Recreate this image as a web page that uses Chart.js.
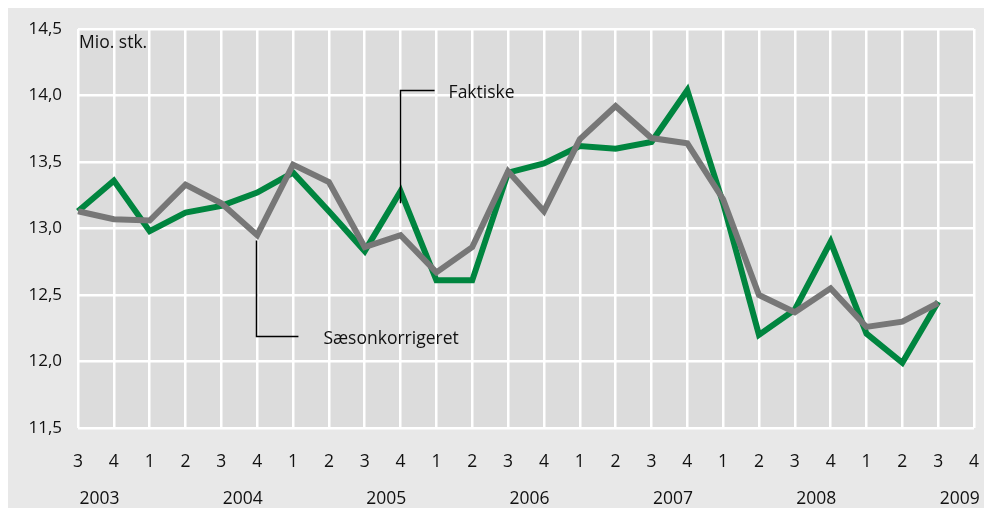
<!DOCTYPE html>
<html>
<head>
<meta charset="utf-8">
<script src="https://cdn.jsdelivr.net/npm/chart.js@4/dist/chart.umd.min.js"></script>
<style>
  html, body { margin: 0; padding: 0; background: #ffffff; }
  canvas { display: block; }
</style>
</head>
<body>
<canvas id="c" width="984" height="508"></canvas>
<script>
// ---- Data ----
const quarterLabels = ['3','4','1','2','3','4','1','2','3','4','1','2','3','4','1','2','3','4','1','2','3','4','1','2','3','4'];
const yearLabels = ['2003','2004','2005','2006','2007','2008','2009'];
const faktiske = [13.13,13.36,12.98,13.12,13.17,13.27,13.42,13.13,12.83,13.28,12.61,12.61,13.42,13.49,13.62,13.60,13.65,14.04,13.19,12.20,12.39,12.90,12.21,11.99,12.45];
const saesonkorrigeret = [13.13,13.07,13.06,13.33,13.19,12.95,13.48,13.35,12.86,12.95,12.67,12.86,13.43,13.13,13.67,13.92,13.68,13.64,13.22,12.50,12.37,12.55,12.26,12.30,12.44];
const yTicks = [11.5,12.0,12.5,13.0,13.5,14.0,14.5];
const unitLabel = 'Mio. stk.';

// annotation leaders (data coordinates: category index, values)
const annotations = [
  { text: 'Faktiske', x: 9, yFrom: 13.19, yTo: 14.04, dx: 0.95, textGap: 14 },
  { text: 'Sæsonkorrigeret', x: 5, yFrom: 12.91, yTo: 12.19, dx: 1.15, textGap: 25 }
];

// year tick positions: just after each Q3
const yearPositions = [];
quarterLabels.forEach((q, i) => { if (q === '3') yearPositions.push(i + 0.6); });

const FONT = '"Open Sans", "Noto Sans", sans-serif';
const TEXT = '#111111';

const bgPlugin = {
  id: 'bg',
  beforeDraw(chart) {
    const ctx = chart.ctx, a = chart.chartArea;
    ctx.save();
    ctx.fillStyle = '#e8e8e8';
    ctx.fillRect(8, 8, chart.width - 8, chart.height - 8);
    ctx.fillStyle = '#dcdcdc';
    ctx.fillRect(a.left, a.top, a.right - a.left, a.bottom - a.top);
    ctx.restore();
  },
  afterDraw(chart) {
    const ctx = chart.ctx, a = chart.chartArea;
    const xs = chart.scales.x, ys = chart.scales.y;
    ctx.save();
    ctx.fillStyle = TEXT;
    ctx.font = '17.5px ' + FONT;
    ctx.textBaseline = 'middle';
    ctx.textAlign = 'left';
    ctx.fillText(unitLabel, a.left + 1, a.top + 14);
    ctx.strokeStyle = '#000000';
    ctx.lineWidth = 1.5;
    annotations.forEach(an => {
      const x = Math.round(xs.getPixelForValue(an.x)) - 0.5;
      const y1 = ys.getPixelForValue(an.yFrom);
      const y2 = Math.round(ys.getPixelForValue(an.yTo)) + 0.5;
      const x2 = xs.getPixelForValue(an.x + an.dx);
      ctx.beginPath();
      ctx.moveTo(x, y1);
      ctx.lineTo(x, y2);
      ctx.lineTo(x2, y2);
      ctx.stroke();
      ctx.fillText(an.text, x2 + an.textGap, y2 + 3);
    });
    ctx.restore();
  }
};

function noPad(scale) {
  scale.paddingLeft = 0;
  scale.paddingRight = 0;
}

new Chart(document.getElementById('c'), {
  type: 'line',
  data: {
    labels: quarterLabels,
    datasets: [
      {
        label: 'Sæsonkorrigeret',
        data: saesonkorrigeret,
        borderColor: '#777777',
        borderWidth: 6,
        pointRadius: 0,
        tension: 0,
        borderJoinStyle: 'miter',
        fill: false,
        order: 0
      },
      {
        label: 'Faktiske',
        data: faktiske,
        borderColor: '#00853f',
        borderWidth: 6,
        pointRadius: 0,
        tension: 0,
        borderJoinStyle: 'miter',
        fill: false,
        order: 1
      }
    ]
  },
  options: {
    responsive: false,
    devicePixelRatio: 1,
    animation: false,
    layout: { padding: { top: 29, right: 10, bottom: 0, left: 0 } },
    plugins: {
      legend: { display: false },
      tooltip: { enabled: false }
    },
    scales: {
      x: {
        type: 'category',
        position: 'bottom',
        offset: false,
        grid: { color: '#ffffff', lineWidth: 2.5, drawTicks: false },
        border: { display: false },
        ticks: {
          autoSkip: false, maxRotation: 0, padding: 24,
          color: TEXT, font: { family: FONT, size: 17.5 }
        },
        afterFit(scale) { scale.height = 50; noPad(scale); }
      },
      years: {
        type: 'linear',
        position: 'bottom',
        min: 0,
        max: quarterLabels.length - 1,
        grid: { display: false, drawTicks: false },
        border: { display: false },
        afterBuildTicks(scale) {
          scale.ticks = yearPositions.map(v => ({ value: v }));
        },
        ticks: {
          autoSkip: false, maxRotation: 0, padding: 11,
          color: TEXT, font: { family: FONT, size: 17.5 },
          callback(value) {
            const i = yearPositions.indexOf(value);
            return i >= 0 ? yearLabels[i] : '';
          }
        },
        afterFit(scale) { scale.height = 30; noPad(scale); }
      },
      y: {
        min: 11.5,
        max: 14.5,
        grid: { color: '#ffffff', lineWidth: 2.5, drawTicks: false },
        border: { display: false },
        afterBuildTicks(scale) {
          scale.ticks = yTicks.map(v => ({ value: v }));
        },
        ticks: {
          padding: 16,
          color: TEXT, font: { family: FONT, size: 17 },
          callback(v) { return Number(v).toFixed(1).replace('.', ','); }
        },
        afterFit(scale) { scale.width = 78; }
      }
    }
  },
  plugins: [bgPlugin]
});
</script>
</body>
</html>
